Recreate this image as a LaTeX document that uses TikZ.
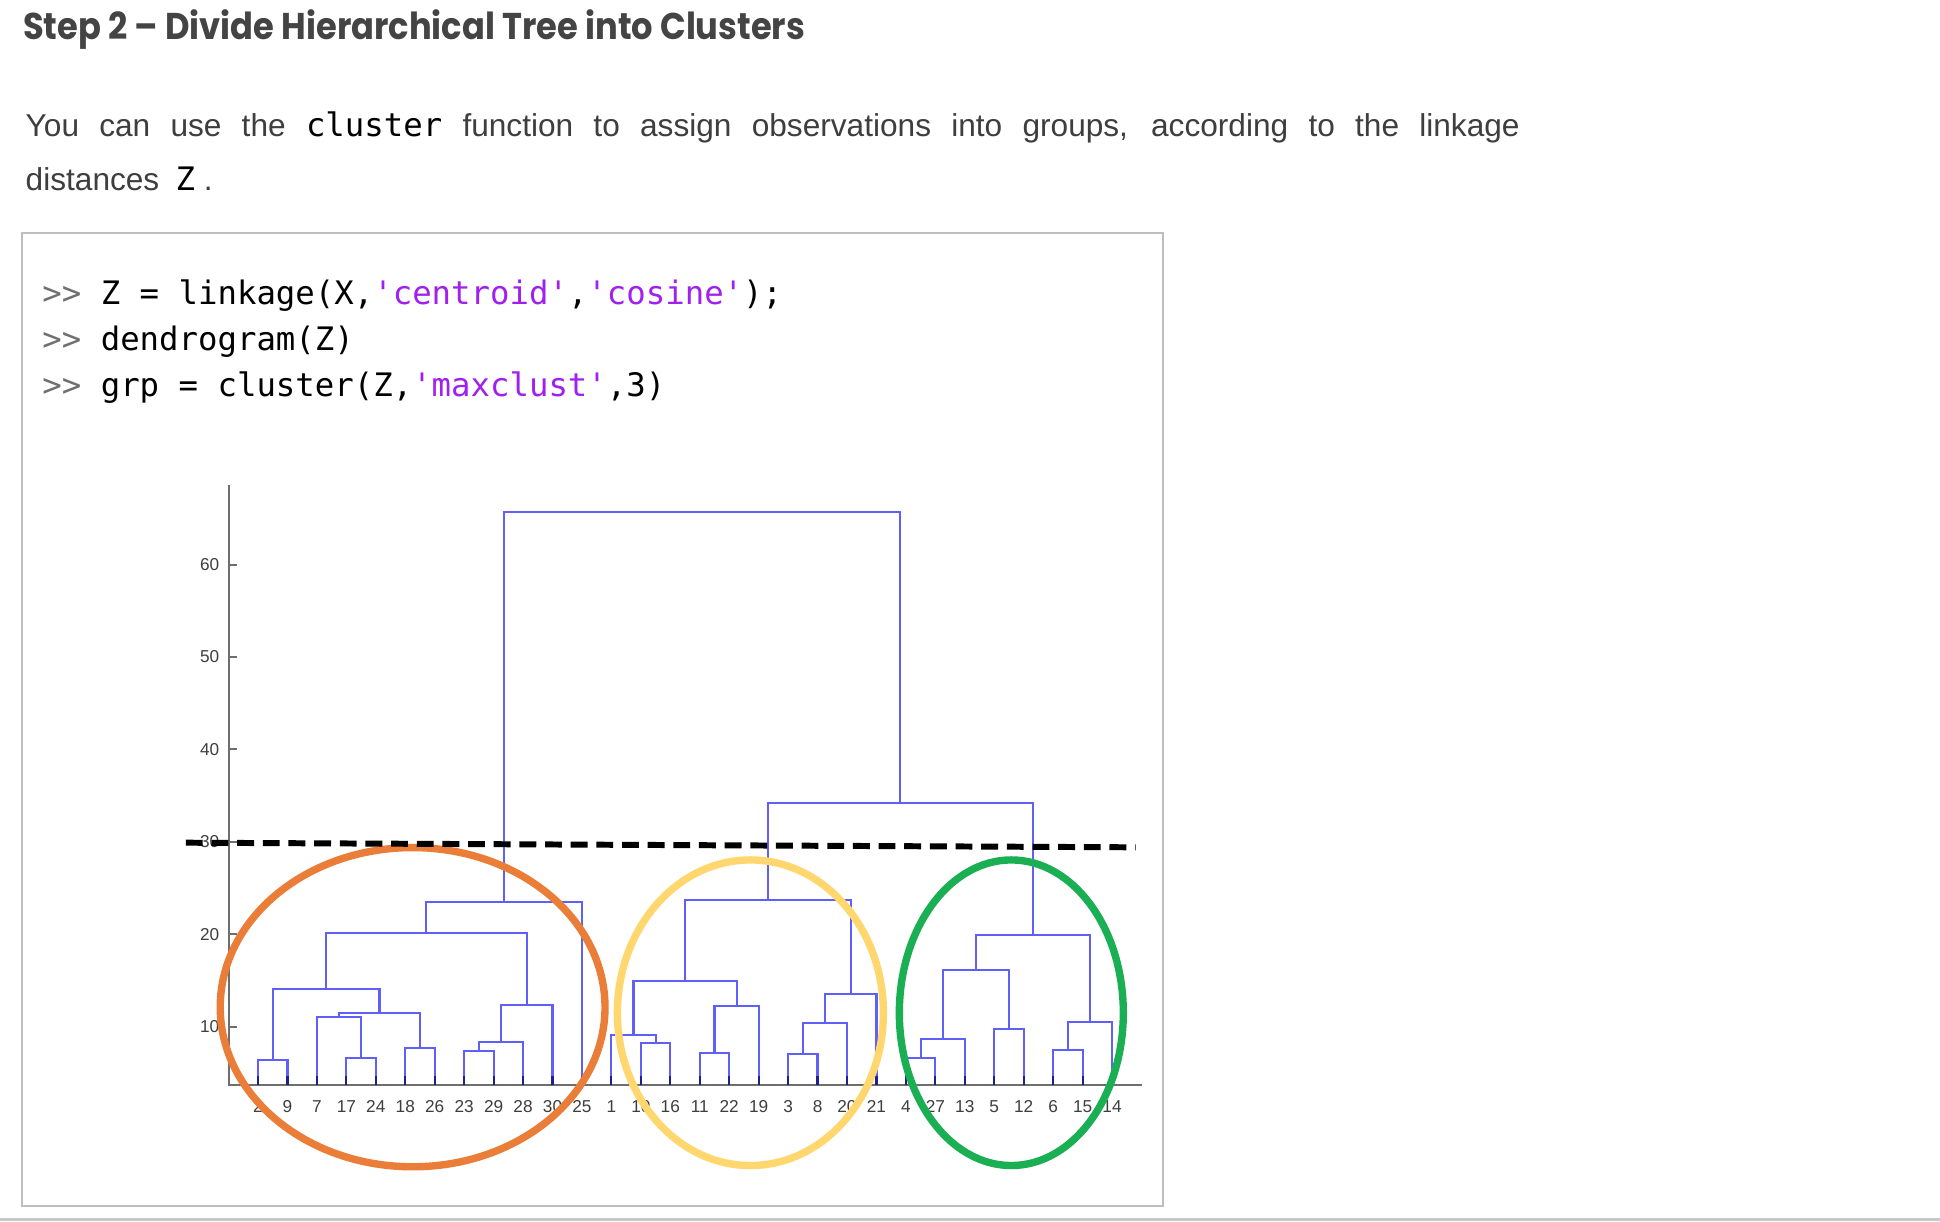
\documentclass[tikz,border=0pt]{standalone}
\usepackage{fontspec}
\usepackage{xcolor}
\usepackage{tikz}
\usetikzlibrary{positioning,calc}
\newfontfamily\titlefont{Poppins}[FakeStretch=0.905]
\newfontfamily\bodyfont{Liberation Sans}
\setmonofont{DejaVu Sans Mono}
\definecolor{titlegray}{RGB}{68,68,68}
\definecolor{textgray}{RGB}{62,62,62}
\definecolor{promptgray}{RGB}{112,112,112}
\definecolor{strpurple}{RGB}{160,32,240}
\definecolor{boxgray}{RGB}{190,190,190}
\definecolor{rulegray}{RGB}{200,200,200}
\definecolor{dendblue}{RGB}{95,95,250}
\definecolor{ticknavy}{RGB}{30,30,140}
\definecolor{axisgray}{RGB}{110,110,110}
\definecolor{grporange}{RGB}{234,125,55}
\definecolor{grpyellow}{RGB}{255,215,110}
\definecolor{grpgreen}{RGB}{27,175,84}
\newcommand{\inlinecode}[1]{{\ttfamily\fontsize{9.2}{11}\selectfont\color{black}#1}}
\newcommand{\cmdprompt}{{\color{promptgray}>>}}
\newcommand{\mstr}[1]{{\color{strpurple}#1}}
\tikzset{
  headtxt/.style={font=\titlefont\bfseries\fontsize{10.6}{12}\selectfont,text=titlegray,
    inner sep=0pt,anchor=base west},
  bodytxt/.style={font=\bodyfont\fontsize{9}{11}\selectfont,text=textgray,
    inner sep=0pt,anchor=base west},
  codetxt/.style={font=\ttfamily\fontsize{9.2}{11}\selectfont,text=black,
    inner sep=0pt,anchor=base west},
  ticklbl/.style={font=\bodyfont\fontsize{4.9}{5.5}\selectfont,text=textgray,inner sep=0pt},
  panel/.style={draw=boxgray,line width=0.55pt},
  axisln/.style={draw=axisgray,line width=0.55pt},
  dend/.style={draw=dendblue,line width=0.6pt},
  leaftick/.style={draw=ticknavy,line width=0.6pt},
  grp/.style={draw=#1,line width=2.1pt},
  cutline/.style={draw=black,line width=1.7pt,dash pattern=on 4.8pt off 2.5pt}
}
\begin{document}
\begin{tikzpicture}
  \fill[white] (0,0) rectangle (19.4,-12.22);
  \useasboundingbox (0,0) rectangle (19.4,-12.22);
  \node[headtxt] (title) at (0.225,-0.40) {Step 2 – Divide Hierarchical Tree into Clusters};
  \node[bodytxt] (intro1) at (0.25,-1.367) {\makebox[14.94cm][s]{You can use the \inlinecode{cluster} function to assign observations into groups, according to the linkage}};
  \node[bodytxt] (intro2) at (0.25,-1.91) {distances \hspace{2.1pt}\inlinecode{Z}\hspace{2.5pt}.};
  \draw[panel] (0.223,-2.326) rectangle (11.627,-12.06);
  \draw[draw=rulegray,line width=0.03cm] (0,-12.193) -- (19.4,-12.193);
  \node[codetxt] (code1) at (0.417,-3.045) {\cmdprompt{} Z = linkage(X,\mstr{'centroid'},\mstr{'cosine'});};
  \node[codetxt] (code2) at (0.417,-3.505) {\cmdprompt{} dendrogram(Z)};
  \node[codetxt] (code3) at (0.417,-3.97) {\cmdprompt{} grp = cluster(Z,\mstr{'maxclust'},3)};
  \begin{scope}[shift={(2.2855,-11.19)},x=0.2945cm,y=0.0924cm]
    \draw[axisln] (0,68.6) -- (0,3.7) -- (31,3.7);
    \foreach \v in {10,20,...,60}{
      \draw[axisln] (0,\v) -- (0.3,\v);
      \node[ticklbl,anchor=east] (y\v) at (-0.29,\v) {\v};
    }
    \foreach \lbl [count=\n] in {2,9,7,17,24,18,26,23,29,28,30,25,1,10,16,11,22,19,3,8,20,21,4,27,13,5,12,6,15,14}{
      \coordinate (o\lbl) at (\n,3.7);
      \node[ticklbl,anchor=base] (t\lbl) at (\n,0.65) {\lbl};
    }
    \coordinate (m1) at (1.5,6.4);
    \coordinate (m2) at (4.5,6.6);
    \coordinate (m3) at (3.75,11.0);
    \coordinate (m4) at (6.5,7.7);
    \coordinate (m5) at (5.125,11.5);
    \coordinate (m6) at (3.3125,14.1);
    \coordinate (m7) at (8.5,7.4);
    \coordinate (m8) at (9.25,8.3);
    \coordinate (m9) at (10.125,12.3);
    \coordinate (m10) at (6.71875,20.1);
    \coordinate (m11) at (9.359,23.5);
    \coordinate (m12) at (14.5,8.2);
    \coordinate (m13) at (13.75,9.1);
    \coordinate (m14) at (16.5,7.1);
    \coordinate (m15) at (17.25,12.2);
    \coordinate (m16) at (15.5,14.9);
    \coordinate (m17) at (19.5,7.0);
    \coordinate (m18) at (20.25,10.4);
    \coordinate (m19) at (21.125,13.5);
    \coordinate (m20) at (18.3125,23.7);
    \coordinate (m21) at (23.5,6.6);
    \coordinate (m22) at (24.25,8.7);
    \coordinate (m23) at (26.5,9.7);
    \coordinate (m24) at (25.375,16.1);
    \coordinate (m25) at (28.5,7.5);
    \coordinate (m26) at (29.25,10.5);
    \coordinate (m27) at (27.3125,19.9);
    \coordinate (m28) at (22.8125,34.2);
    \coordinate (m29) at (16.086,65.7);
    \foreach \c/\p in {o2/m1,o9/m1,o17/m2,o24/m2,o7/m3,m2/m3,o18/m4,o26/m4,m3/m5,m4/m5,
      m1/m6,m5/m6,o23/m7,o29/m7,m7/m8,o28/m8,m8/m9,o30/m9,m6/m10,m9/m10,m10/m11,o25/m11,
      o10/m12,o16/m12,o1/m13,m12/m13,o11/m14,o22/m14,m14/m15,o19/m15,m13/m16,m15/m16,
      o3/m17,o8/m17,m17/m18,o20/m18,m18/m19,o21/m19,m16/m20,m19/m20,
      o4/m21,o27/m21,m21/m22,o13/m22,o5/m23,o12/m23,m22/m24,m23/m24,
      o6/m25,o15/m25,m25/m26,o14/m26,m24/m27,m26/m27,m20/m28,m27/m28,m11/m29,m28/m29}
      \draw[dend] (\c) |- (\p);
    \foreach \lbl in {1,...,30}
      \draw[leaftick] (o\lbl) -- ++(0,1);
    \draw[grp=grporange] (6.25,12.1) ellipse [x radius=1.924cm,y radius=1.596cm];
    \draw[grp=grpyellow] (17.72,11.5) ellipse [x radius=1.33cm,y radius=1.528cm];
    \draw[grp=grpgreen] (26.58,11.5) ellipse [x radius=1.12cm,y radius=1.528cm];
    \coordinate (cutL) at (-1.45,29.9);
    \coordinate (cutR) at (30.8,29.4);
    \draw[cutline] (cutL) -- (cutR);
  \end{scope}
\end{tikzpicture}
\end{document}
